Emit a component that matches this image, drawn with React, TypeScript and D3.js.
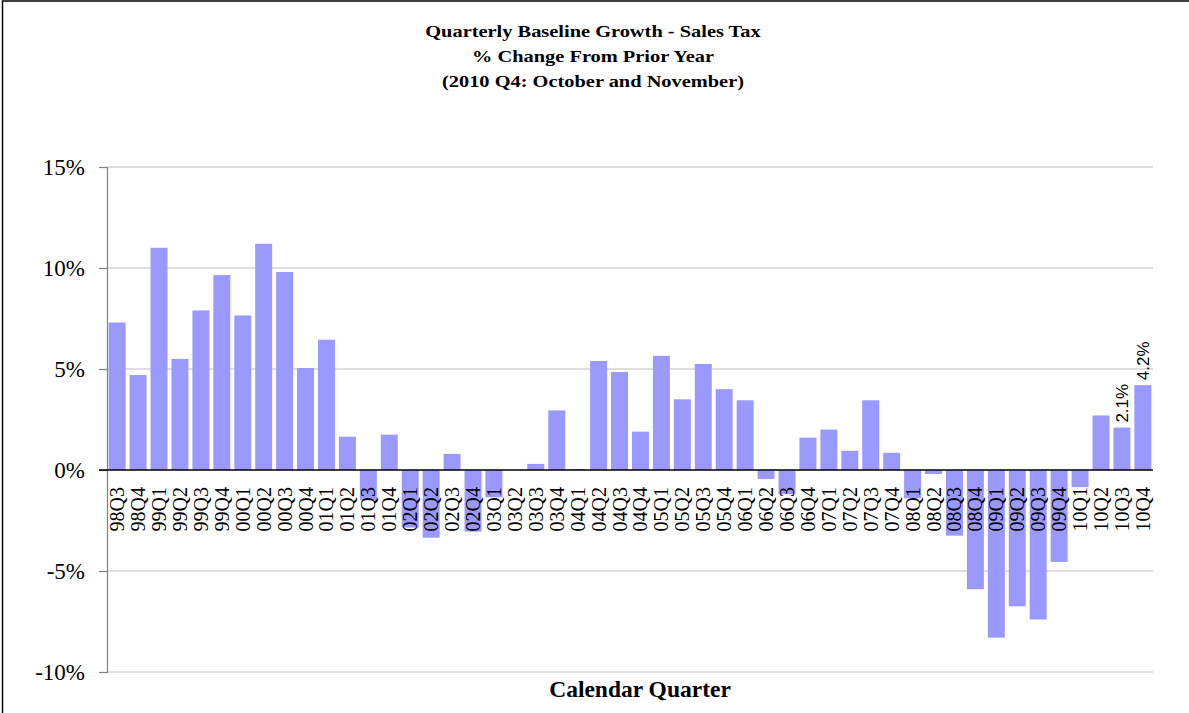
import React, { useEffect, useRef } from 'react';
import * as d3 from 'd3';

// Sales tax baseline growth, % change from prior year, by calendar quarter
const quarters = [
  '98Q3', '98Q4',
  '99Q1', '99Q2', '99Q3', '99Q4',
  '00Q1', '00Q2', '00Q3', '00Q4',
  '01Q1', '01Q2', '01Q3', '01Q4',
  '02Q1', '02Q2', '02Q3', '02Q4',
  '03Q1', '03Q2', '03Q3', '03Q4',
  '04Q1', '04Q2', '04Q3', '04Q4',
  '05Q1', '05Q2', '05Q3', '05Q4',
  '06Q1', '06Q2', '06Q3', '06Q4',
  '07Q1', '07Q2', '07Q3', '07Q4',
  '08Q1', '08Q2', '08Q3', '08Q4',
  '09Q1', '09Q2', '09Q3', '09Q4',
  '10Q1', '10Q2', '10Q3', '10Q4',
];

const growth = [
  7.3, 4.7,
  11.0, 5.5, 7.9, 9.65,
  7.65, 11.2, 9.8, 5.05,
  6.45, 1.65, -1.5, 1.75,
  -2.85, -3.35, 0.8, -3.05,
  -1.35, 0, 0.3, 2.95,
  0.05, 5.4, 4.85, 1.9,
  5.65, 3.5, 5.25, 4.0,
  3.45, -0.45, -1.2, 1.6,
  2.0, 0.95, 3.45, 0.85,
  -1.4, -0.2, -3.25, -5.9,
  -8.3, -6.75, -7.4, -4.55,
  -0.85, 2.7, 2.1, 4.2,
];

// only the latest two quarters carry a value label
const labeledQuarters = ['10Q3', '10Q4'];

const yTicks = [-10, -5, 0, 5, 10, 15];

const titleLines = [
  'Quarterly Baseline Growth - Sales Tax',
  '% Change From Prior Year',
  '(2010 Q4: October and November)',
];

const WIDTH = 1189;
const HEIGHT = 713;

const BarChart: React.FC = () => {
  const svgRef = useRef<SVGSVGElement>(null);

  useEffect(() => {
    if (!svgRef.current) return;
    const svg = d3.select(svgRef.current);
    svg.selectAll('*').remove();

    const plot = { left: 107, right: 1153, top: 167, bottom: 672 };
    const serif = '"Liberation Serif", "Times New Roman", serif';
    const sans = '"Liberation Sans", Arial, sans-serif';

    const data = quarters.map((q, i) => ({ q, v: growth[i] }));

    const x = d3.scaleBand<string>()
      .domain(quarters)
      .range([plot.left, plot.right])
      .paddingInner(0.19)
      .paddingOuter(0.08);

    const y = d3.scaleLinear()
      .domain([-10, 15])
      .range([plot.bottom, plot.top]);

    // outer chart frame (cropped on the right and bottom)
    svg.append('rect')
      .attr('x', 2.5)
      .attr('y', 1)
      .attr('width', WIDTH + 20)
      .attr('height', HEIGHT + 20)
      .attr('fill', '#fff')
      .attr('stroke', '#000')
      .attr('stroke-width', 1.5);

    // title (the source renders it a little wide, so stretch horizontally)
    svg.append('g')
      .attr('transform', 'translate(593,0) scale(1.2,1)')
      .selectAll('text')
      .data(titleLines)
      .join('text')
      .attr('x', 0)
      .attr('y', (_, i) => 37 + i * 25)
      .attr('text-anchor', 'middle')
      .attr('font-family', serif)
      .attr('font-weight', 'bold')
      .attr('font-size', 17)
      .attr('fill', '#000')
      .text(d => d);

    // gridlines
    svg.append('g')
      .selectAll('line')
      .data(yTicks.filter(t => t !== 0))
      .join('line')
      .attr('x1', plot.left)
      .attr('x2', plot.right)
      .attr('y1', d => y(d))
      .attr('y2', d => y(d))
      .attr('stroke', '#bfbfbf')
      .attr('stroke-width', 1.2);

    // y axis
    const yAxis = svg.append('g')
      .attr('transform', `translate(${plot.left},0)`)
      .call(d3.axisLeft(y).tickValues(yTicks).tickSize(8).tickPadding(14)
        .tickFormat(d => `${d}%`));
    yAxis.select('.domain').attr('stroke', '#808080').attr('stroke-width', 1.2);
    yAxis.selectAll('.tick line').attr('stroke', '#808080').attr('stroke-width', 1.2);
    yAxis.selectAll('.tick text')
      .attr('font-family', serif)
      .attr('font-size', 23)
      .attr('fill', '#000');

    // bars
    svg.append('g')
      .selectAll('rect')
      .data(data)
      .join('rect')
      .attr('x', d => x(d.q)!)
      .attr('width', x.bandwidth())
      .attr('y', d => y(Math.max(0, d.v)))
      .attr('height', d => Math.abs(y(d.v) - y(0)))
      .attr('fill', '#9999ff');

    // zero line
    svg.append('line')
      .attr('x1', plot.left - 8)
      .attr('x2', plot.right)
      .attr('y1', y(0))
      .attr('y2', y(0))
      .attr('stroke', '#000')
      .attr('stroke-width', 1.5);

    // category labels, rotated, hanging below the zero line
    svg.append('g')
      .selectAll('text')
      .data(quarters)
      .join('text')
      .attr('transform', d => `translate(${x(d)! + x.bandwidth() / 2},${y(0) + 17}) rotate(-90)`)
      .attr('text-anchor', 'end')
      .attr('dy', '0.35em')
      .attr('font-family', serif)
      .attr('font-size', 20)
      .attr('fill', '#000')
      .text(d => d);

    // value labels
    svg.append('g')
      .selectAll('text')
      .data(data.filter(d => labeledQuarters.includes(d.q)))
      .join('text')
      .attr('transform', d => `translate(${x(d.q)! + x.bandwidth() / 2},${y(d.v) - 5}) rotate(-90)`)
      .attr('text-anchor', 'start')
      .attr('dy', '0.35em')
      .attr('font-family', sans)
      .attr('font-size', 17)
      .attr('fill', '#000')
      .text(d => `${d3.format('.1f')(d.v)}%`);

    // x axis title
    svg.append('text')
      .attr('x', 640)
      .attr('y', 697)
      .attr('text-anchor', 'middle')
      .attr('font-family', serif)
      .attr('font-weight', 'bold')
      .attr('font-size', 23.5)
      .attr('fill', '#000')
      .text('Calendar Quarter');
  }, []);

  return (
    <svg
      ref={svgRef}
      width={WIDTH}
      height={HEIGHT}
      style={{ position: 'absolute', left: 0, top: 0, background: '#fff' }}
    />
  );
};

export default function App() {
  return <BarChart />;
}
